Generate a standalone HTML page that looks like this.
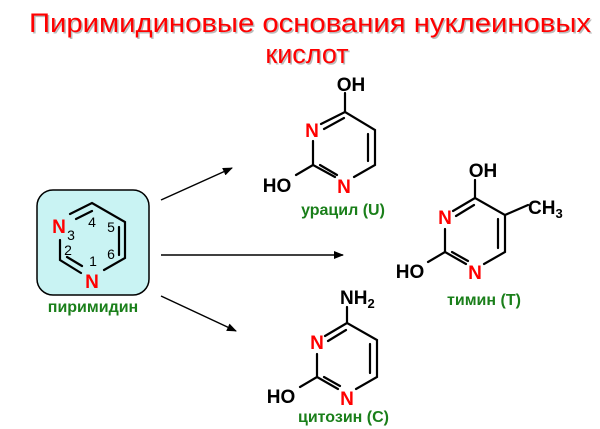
<!DOCTYPE html>
<html><head><meta charset="utf-8"><style>
html,body{margin:0;padding:0;background:#fff;}
svg{display:block;}
.b{stroke:#000;stroke-width:2.2;fill:none;stroke-linecap:round;}
.t{font-family:"Liberation Sans",sans-serif;font-weight:bold;font-size:19px;}
.n{fill:#f00;}
.g{fill:#1a7f1a;font-size:16px;}
.s{font-family:"Liberation Sans",sans-serif;font-size:14px;fill:#000;}
</style></head><body>
<svg width="600" height="429" viewBox="0 0 600 429" xmlns="http://www.w3.org/2000/svg">
<defs><marker id="ar" markerWidth="10" markerHeight="8" refX="9" refY="4" orient="auto" markerUnits="userSpaceOnUse"><path d="M0,0 L10,4 L0,8 Z" fill="#000"/></marker></defs>
<g font-family="Liberation Sans, sans-serif" font-size="27" text-anchor="middle">
<text x="310" y="32" fill="#bbb" textLength="562" lengthAdjust="spacingAndGlyphs" transform="translate(1.5,1.5)">Пиримидиновые основания нуклеиновых</text>
<text x="310" y="32" fill="#f00" textLength="562" lengthAdjust="spacingAndGlyphs">Пиримидиновые основания нуклеиновых</text>
<text x="307" y="63" fill="#bbb" transform="translate(1.5,1.5)">кислот</text>
<text x="307" y="63" fill="#f00">кислот</text>
</g>
<!-- pyrimidine -->
<rect x="37" y="190" width="112" height="105" rx="16" fill="#c9f3f3" stroke="#000" stroke-width="1.5"/>
<path class="b" d="M70,214 L92,203 L125,222 L125,258 L104,270 M81,273 L60,260 L60,240"/>
<path class="b" d="M76,219 L92,211 M119,227 L119,255 M67,257 L82,266"/>
<text class="t n" x="59" y="233" text-anchor="middle" font-size="21">N</text>
<text class="t n" x="92" y="288" text-anchor="middle" font-size="21">N</text>
<text class="s" x="92" y="227" text-anchor="middle">4</text>
<text class="s" x="71" y="240" text-anchor="middle">3</text>
<text class="s" x="111" y="232" text-anchor="middle">5</text>
<text class="s" x="111" y="259" text-anchor="middle">6</text>
<text class="s" x="68" y="255" text-anchor="middle">2</text>
<text class="s" x="93" y="266" text-anchor="middle">1</text>
<text class="t g" x="93" y="312" text-anchor="middle">пиримидин</text>
<!-- arrows -->
<line x1="161" y1="200" x2="232" y2="168" stroke="#000" stroke-width="1.5" marker-end="url(#ar)"/>
<line x1="161" y1="255" x2="343" y2="255" stroke="#000" stroke-width="1.5" marker-end="url(#ar)"/>
<line x1="161" y1="296" x2="236" y2="331" stroke="#000" stroke-width="1.5" marker-end="url(#ar)"/>
<!-- uracil -->
<path class="b" d="M345,93 L345,112 L375,130 L375,165 L354,177 M335,177 L313,165 L313,141 M321,124 L345,112 M313,165 L296,175"/>
<path class="b" d="M324,129 L344,118 M368,134 L368,161 M320,165 L337,175"/>
<text class="t" x="351" y="91" text-anchor="middle">OH</text>
<text class="t n" x="312" y="137" text-anchor="middle">N</text>
<text class="t n" x="344" y="193" text-anchor="middle">N</text>
<text class="t" x="277" y="192" text-anchor="middle">HO</text>
<text class="t g" x="343" y="215" text-anchor="middle">урацил (U)</text>
<!-- thymine -->
<path class="b" d="M475,180 L475,198 L505,215 L505,252 L484,264 M466,264 L445,252 L445,229 M453,211 L475,198 M445,252 L428,262 M505,215 L528,205"/>
<path class="b" d="M456,216 L474,205 M498,219 L498,248 M452,252 L468,261"/>
<text class="t" x="483" y="177" text-anchor="middle">OH</text>
<text class="t" x="528" y="214">CH<tspan font-size="13" dy="4">3</tspan></text>
<text class="t n" x="445" y="224" text-anchor="middle">N</text>
<text class="t n" x="475" y="279" text-anchor="middle">N</text>
<text class="t" x="410" y="278" text-anchor="middle">HO</text>
<text class="t g" x="484" y="305" text-anchor="middle">тимин (T)</text>
<!-- cytosine -->
<path class="b" d="M347,307 L347,323 L377,340 L377,377 L356,389 M338,389 L317,377 L317,354 M325,336 L347,323 M317,377 L300,387"/>
<path class="b" d="M328,341 L346,330 M370,344 L370,373 M324,377 L340,386"/>
<text class="t" x="340" y="304">NH<tspan font-size="13" dy="4">2</tspan></text>
<text class="t n" x="317" y="349" text-anchor="middle">N</text>
<text class="t n" x="347" y="405" text-anchor="middle">N</text>
<text class="t" x="281" y="403" text-anchor="middle">HO</text>
<text class="t g" x="298" y="422">цитозин (C)</text>
</svg>
</body></html>
